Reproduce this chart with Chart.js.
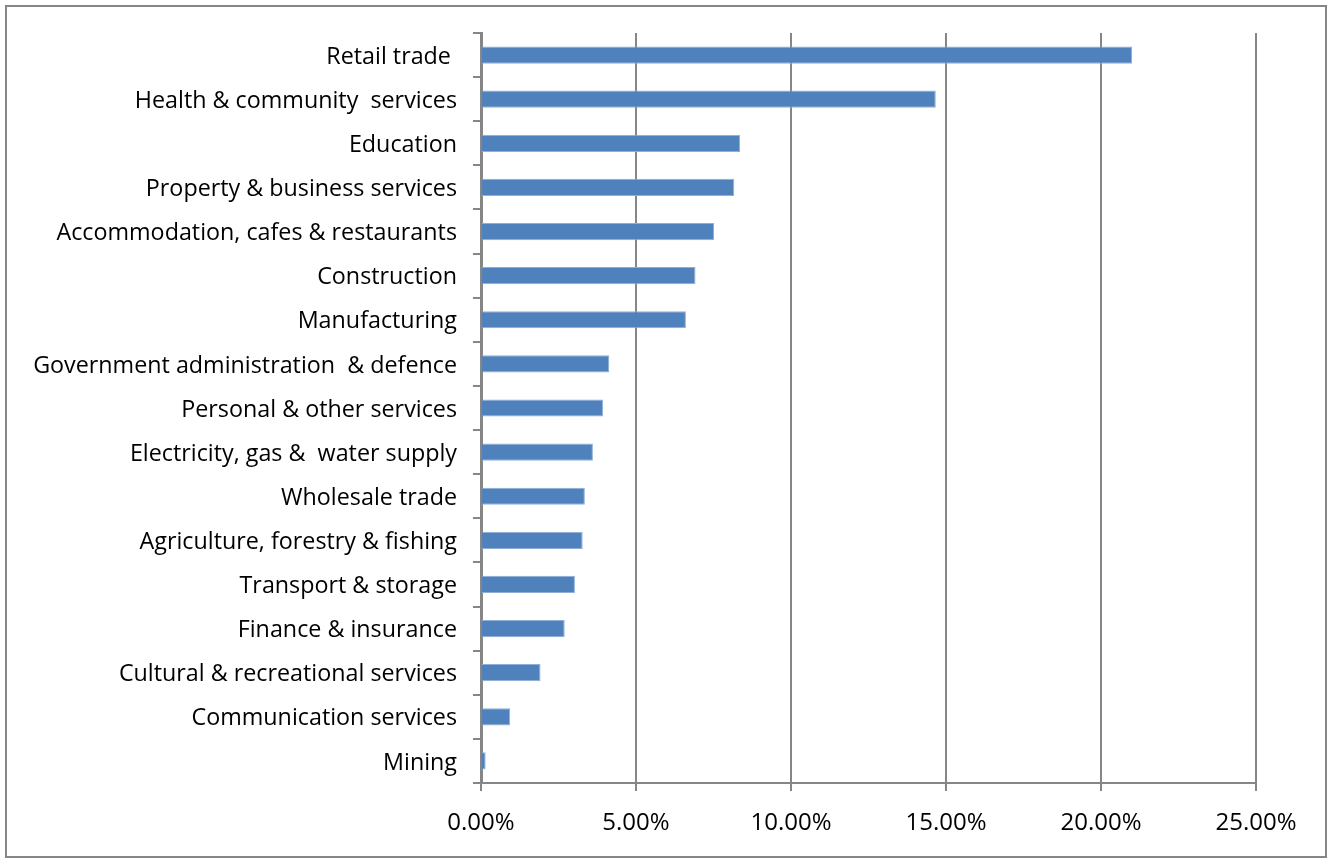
<!DOCTYPE html>
<html>
<head>
<meta charset="utf-8">
<script src="https://cdn.jsdelivr.net/npm/chart.js@4"></script>
<style>
html,body{margin:0;padding:0;background:#fff;}
#wrap{width:1328px;height:863px;position:relative;}
canvas{display:block;}
</style>
</head>
<body>
<div id="wrap"><canvas id="c" width="1328" height="863"></canvas></div>
<script>
const categories = [
  "Retail trade ",
  "Health & community  services",
  "Education",
  "Property & business services",
  "Accommodation, cafes & restaurants",
  "Construction",
  "Manufacturing",
  "Government administration  & defence",
  "Personal & other services",
  "Electricity, gas &  water supply",
  "Wholesale trade",
  "Agriculture, forestry & fishing",
  "Transport & storage",
  "Finance & insurance",
  "Cultural & recreational services",
  "Communication services",
  "Mining"
];
const shares = [21.0, 14.67, 8.36, 8.17, 7.52, 6.92, 6.61, 4.14, 3.94, 3.61, 3.35, 3.28, 3.03, 2.70, 1.92, 0.94, 0.15];
const xTicks = [0, 5, 10, 15, 20, 25];

const FONT = "'Open Sans', Lato, sans-serif";
const GRID = "#868686";

const borderPlugin = {
  id: 'outerBorder',
  beforeDraw(chart) {
    const ctx = chart.ctx;
    ctx.save();
    ctx.fillStyle = '#fff';
    ctx.fillRect(0, 0, chart.width, chart.height);
    ctx.strokeStyle = GRID;
    ctx.lineWidth = 2;
    ctx.strokeRect(6, 6, 1320, 851);
    ctx.restore();
  }
};

new Chart(document.getElementById('c'), {
  type: 'bar',
  data: {
    labels: categories,
    datasets: [{
      data: shares,
      backgroundColor: '#4F81BD',
      borderColor: '#8FAFD8',
      borderWidth: 1,
      categoryPercentage: 1,
      barPercentage: 0.39
    }]
  },
  options: {
    indexAxis: 'y',
    responsive: false,
    animation: false,
    devicePixelRatio: 1,
    layout: { padding: { left: 0, right: 72, top: 33, bottom: 0 } },
    plugins: { legend: { display: false }, tooltip: { enabled: false } },
    scales: {
      x: {
        min: 0, max: 25,
        afterBuildTicks(scale) { scale.ticks = xTicks.map(v => ({ value: v })); },
        afterFit(scale) { scale.height = 80; },
        grid: { color: GRID, lineWidth: 2, tickLength: 8, drawTicks: true },
        border: { color: GRID, width: 2 },
        ticks: {
          color: '#000',
          padding: 18,
          maxRotation: 0,
          font: { family: FONT, size: 24 },
          callback: v => Number(v).toFixed(2) + '%'
        }
      },
      y: {
        afterFit(scale) { scale.width = 481; },
        grid: { color: GRID, lineWidth: 2, tickLength: 8, drawOnChartArea: false, offset: true },
        border: { color: GRID, width: 3 },
        ticks: {
          color: '#000',
          padding: 16,
          labelOffset: 2,
          autoSkip: false,
          font: { family: FONT, size: 23.3 }
        }
      }
    }
  },
  plugins: [borderPlugin]
});
</script>
</body>
</html>
